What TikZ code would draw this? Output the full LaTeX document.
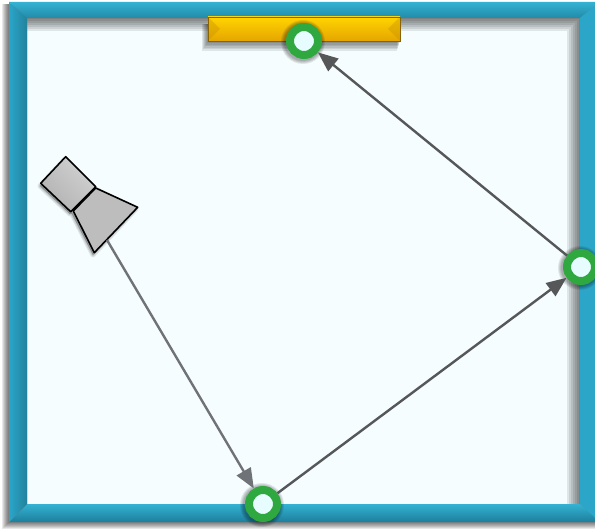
\documentclass[tikz,border=0pt]{standalone}
\usetikzlibrary{arrows.meta}
\definecolor{roomback}{HTML}{F6FDFF}
\definecolor{wallblue}{HTML}{2BA6C8}
\definecolor{walllight}{HTML}{35B2D2}
\definecolor{walldark}{HTML}{1C7F9C}
\definecolor{ringgreen}{HTML}{2FA83F}
\definecolor{ringcore}{HTML}{E6FCFF}
\definecolor{panelyellow}{HTML}{FFD400}
\definecolor{paneldark}{HTML}{E5A500}
\definecolor{beamgrey}{HTML}{555759}
\definecolor{firstbeam}{HTML}{6F7377}
\tikzset{
	ringnode/.style={circle,draw=ringgreen,fill=ringcore,line width=8pt,minimum size=28pt,inner sep=0pt},
	beam/.style={draw=beamgrey,line width=2.4pt,-{Triangle[length=20pt,width=16pt]}},
	softedge/.style={black,opacity=0.09,line join=round}
}
\begin{document}
\begin{tikzpicture}[x=1pt,y=-1pt]
		\useasboundingbox (0,0) rectangle (595,529);
		\clip (0,0) rectangle (595,529);
		
		% Sala
		\fill[white] (0,0) rectangle (595,529);
		\foreach \d in {1,2,...,7} {
			\fill[softedge] (9-\d,4) rectangle (600,522+\d);
		}
		\fill[roomback] (27,18) rectangle (580,504);
		\foreach \d in {1,3,...,13} {
			\fill[softedge,even odd rule] (27,18) rectangle (580,504) (27,18+\d) rectangle (580-\d,504);
		}
		
		% Paredes
		\shade[top color=walllight,bottom color=walldark!70!wallblue] (9,2) -- (600,2) -- (580,18) -- (27,18) -- cycle;
		\shade[top color=walllight,bottom color=walldark] (9,522) -- (600,522) -- (580,504) -- (27,504) -- cycle;
		\shade[left color=wallblue,right color=wallblue!78!black] (9,2) -- (27,18) -- (27,504) -- (9,522) -- cycle;
		\shade[left color=wallblue,right color=wallblue] (600,2) -- (580,18) -- (580,504) -- (600,522) -- cycle;
		
		% Panel
		\foreach \d in {1,2,...,6} {
			\fill[softedge] (208-\d,24) rectangle (400-\d/2,42+1.5*\d);
		}
		\shade[top color=panelyellow,bottom color=paneldark] (208,17) rectangle (400,41);
		\fill[paneldark!85!black,opacity=0.35] (208,17) -- (220,29) -- (208,41) -- cycle;
		\fill[paneldark!85!black,opacity=0.35] (400,17) -- (388,29) -- (400,41) -- cycle;
		\draw[paneldark!60!black,line width=0.8pt] (208,17) rectangle (400,41);
		
		% Altavoz
		\foreach \w in {1,3,5} {
			\draw[softedge,fill,line width=\w pt] (65,159) -- (95,189) -- (136,209) -- (93,255) -- (72,214) -- (70,214) -- (40,186) -- cycle;
		}
		\fill[draw=black,fill=white!74!black,line width=1.6pt,line join=round]
			(95.7,188) -- (137.7,207.3) -- (94.3,252.7) -- (73.3,211) -- cycle;
		\shade[left color=white!82!black,right color=white!70!black,shading angle=-45,draw=black,line width=1.6pt,line join=round]
			(65.7,156.7) -- (95.7,186.7) -- (70.7,211.7) -- (40.7,183.3) -- cycle;
		
		% Puntos
		\foreach \cx/\cy in {304/41,263/504,581/267} {
			\foreach \r in {19,20,21,22} {
				\fill[softedge] (\cx-1,\cy+1) circle (\r);
			}
		}
		\coordinate (horn) at (107,240);
		\node[ringnode] (ptop) at (304,41) {};
		\node[ringnode] (pbottom) at (263,504) {};
		\node[ringnode] (pright) at (581,267) {};
		
		% Rayos
		\draw[beam,draw=firstbeam] (horn) -- (pbottom);
		\draw[beam] (pbottom) -- (pright);
		\draw[beam] (pright) -- (ptop);
		
	\end{tikzpicture}
\end{document}
